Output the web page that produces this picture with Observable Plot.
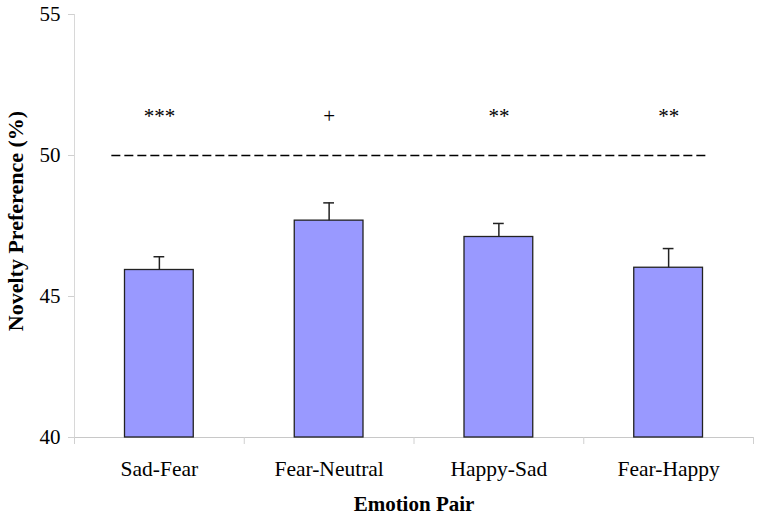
<!DOCTYPE html>
<html>
<head>
<meta charset="utf-8">
<script src="https://cdn.jsdelivr.net/npm/d3@7"></script>
<script src="https://cdn.jsdelivr.net/npm/@observablehq/plot@0.6"></script>
<style>
  html, body { margin: 0; padding: 0; background: #ffffff; }
</style>
</head>
<body>
<div id="chart"></div>
<script>
const categories = ["Sad-Fear", "Fear-Neutral", "Happy-Sad", "Fear-Happy"];
const means = [45.94, 47.69, 47.11, 46.02];
const errors = [0.47, 0.63, 0.48, 0.68];
const significance = ["***", "+", "**", "**"];
const yTicks = [40, 45, 50, 55];
const chanceLevel = [50];
const chanceSpan = [0.22, 3.72];   // extent of dashed line in category units
const sigLevel = 51.4;

const data = categories.map((c, i) => ({cat: c, i, mean: means[i], err: errors[i], sig: significance[i]}));
const boundaries = d3.range(categories.length + 1);
const centers = categories.map((c, i) => i + 0.5);

const chart = Plot.plot({
  width: 761,
  height: 520,
  marginLeft: 74,
  marginRight: 8,
  marginTop: 14,
  marginBottom: 83,
  style: {fontFamily: "'Liberation Serif', serif", fontSize: "21px", background: "#ffffff", color: "#000"},
  x: {type: "linear", domain: [0, categories.length]},
  y: {domain: [40, 55]},
  marks: [
    Plot.ruleY([40], {stroke: "#c8c8c8", strokeWidth: 1}),
    Plot.ruleX([0], {stroke: "#d8d8d8", strokeWidth: 1}),
    Plot.axisY({ticks: yTicks, tickSize: 6, tickPadding: 8, stroke: "#d0d0d0", fill: "#000", fontSize: 21, label: null}),
    Plot.axisX({ticks: boundaries, tickSize: 7, tickFormat: () => "", stroke: "#d0d0d0", label: null}),
    Plot.axisX({ticks: centers, tickSize: 0, tickPadding: 23, tickFormat: d => categories[Math.round(d - 0.5)], fill: "#000", fontSize: 21.5, label: null}),
    Plot.rectY(data, {x1: d => d.i, x2: d => d.i + 1, y1: 40, y2: "mean", insetLeft: 50.5, insetRight: 50.5, fill: "#9999ff", stroke: "#222", strokeWidth: 1.3}),
    Plot.ruleX(data, {x: d => d.i + 0.5, y1: "mean", y2: d => d.mean + d.err, stroke: "#222", strokeWidth: 1.5}),
    Plot.ruleY(data, {x1: d => d.i, x2: d => d.i + 1, y: d => d.mean + d.err, insetLeft: 79.5, insetRight: 79.5, stroke: "#222", strokeWidth: 1.5}),
    Plot.ruleY(chanceLevel, {x1: chanceSpan[0], x2: chanceSpan[1], stroke: "#000", strokeWidth: 1.5, strokeDasharray: "9,4"}),
    Plot.text(data, {x: d => d.i + 0.5, y: sigLevel, text: "sig", fontSize: 21, fill: "#000"}),
    Plot.text(["Emotion Pair"], {frameAnchor: "bottom", dy: 73, fontWeight: "bold", fontSize: 21, fill: "#000"}),
    Plot.text(["Novelty Preference (%)"], {frameAnchor: "left", textAnchor: "middle", rotate: -90, dx: -59, dy: -5, fontWeight: "bold", fontSize: 22, fill: "#000"})
  ]
});
document.getElementById("chart").appendChild(chart);
</script>
</body>
</html>
